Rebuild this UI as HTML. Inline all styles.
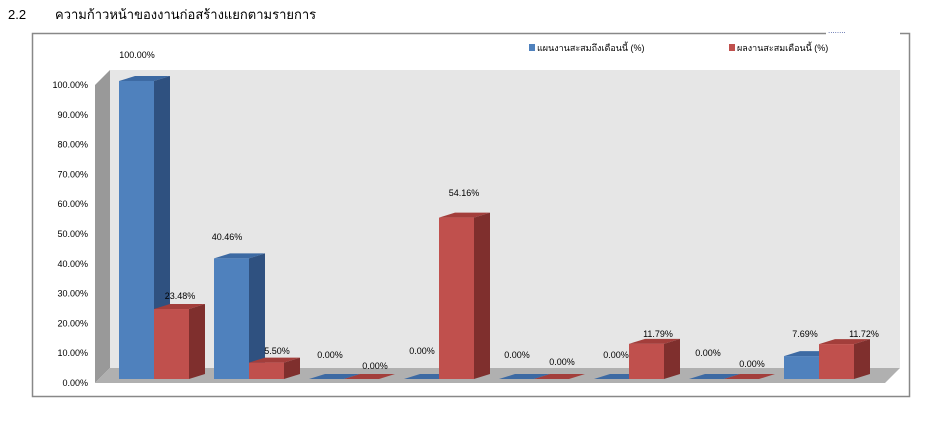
<!DOCTYPE html>
<html><head><meta charset="utf-8"><style>
body{margin:0;background:#fff;width:937px;height:421px;overflow:hidden}
svg{display:block}
text{font-family:"Liberation Sans",sans-serif;font-size:9px;fill:#000}
</style></head><body>
<svg id="s" width="937" height="421" xmlns="http://www.w3.org/2000/svg">
<text x="8" y="19" style="font-size:13px;font-family:'Liberation Sans','Noto Sans CJK SC',sans-serif">2.2</text>
<text x="55" y="19" style="font-size:13px;font-family:'Liberation Sans','Noto Sans CJK SC',sans-serif">ความก้าวหน้าของงานก่อสร้างแยกตามรายการ</text>
<rect x="32.5" y="33.5" width="877" height="363" fill="#fff" stroke="#888" stroke-width="1.5"/>
<rect x="826" y="28" width="74" height="8" fill="#fff"/>
<text x="828" y="33" style="font-size:8px;fill:#3a4f9a">........</text>
<rect x="110" y="70" width="790" height="298" fill="#e6e6e6"/>
<polygon points="95,85 110,70 110,368 95,383" fill="#999"/>
<polygon points="95,383 885,383 900,368 110,368" fill="#b0b0b0"/>
<rect x="529" y="44" width="6" height="7" fill="#4f81bd"/>
<text x="537" y="51" style="font-family:'Liberation Sans','Noto Sans CJK SC',sans-serif">แผนงานสะสมถึงเดือนนี้ (%)</text>
<rect x="729" y="44" width="6" height="7" fill="#c0504d"/>
<text x="737" y="51" style="font-family:'Liberation Sans','Noto Sans CJK SC',sans-serif">ผลงานสะสมเดือนนี้ (%)</text>
<g id="ax"></g><g id="bars"></g>
</svg>
<script>
var ns="http://www.w3.org/2000/svg",s=document.getElementById('s');
function el(t,a,txt){var e=document.createElementNS(ns,t);for(var k in a)e.setAttribute(k,a[k]);if(txt!=null)e.textContent=txt;s.appendChild(e);return e;}
for(var i=0;i<=10;i++){var y=383-i*29.8;el('text',{x:88,y:y+3,'text-anchor':'end'},(i*10)+'.00%');}
var B=[100,40.46,0,0,0,0,0,7.69],R=[23.48,5.5,0,54.16,0,11.79,0,11.72];
var lab=[[137,58],[180,299],[227,240],[277,354],[330,358],[375,369],[422,354],[464,196],[517,358],[562,365],[616,358],[658,337],[708,356],[752,367],[805,337],[864,337]];
var dx=16,dy=-5,w=35,base=379,k=2.98,n=0;
function bar(x,v,f,sd,tp){var h=v*k,t=base-h;
 el('polygon',{points:[x,t,x+dx,t+dy,x+w+dx,t+dy,x+w,t].join(' '),fill:tp});
 el('polygon',{points:[x+w,t,x+w+dx,t+dy,x+w+dx,base+dy,x+w,base].join(' '),fill:sd});
 if(h>0)el('rect',{x:x,y:t,width:w,height:h,fill:f});}
for(var g=0;g<8;g++){var x=119+95*g;
 bar(x,B[g],'#4f81bd','#2f5180','#3d6aa3');
 bar(x+w,R[g],'#c0504d','#7f2f2d','#a33e3b');
 var l1=lab[2*g],l2=lab[2*g+1];
 el('text',{x:l1[0],y:l1[1],'text-anchor':'middle'},B[g].toFixed(2)+'%');
 el('text',{x:l2[0],y:l2[1],'text-anchor':'middle'},R[g].toFixed(2)+'%');}
</script>
</body></html>
